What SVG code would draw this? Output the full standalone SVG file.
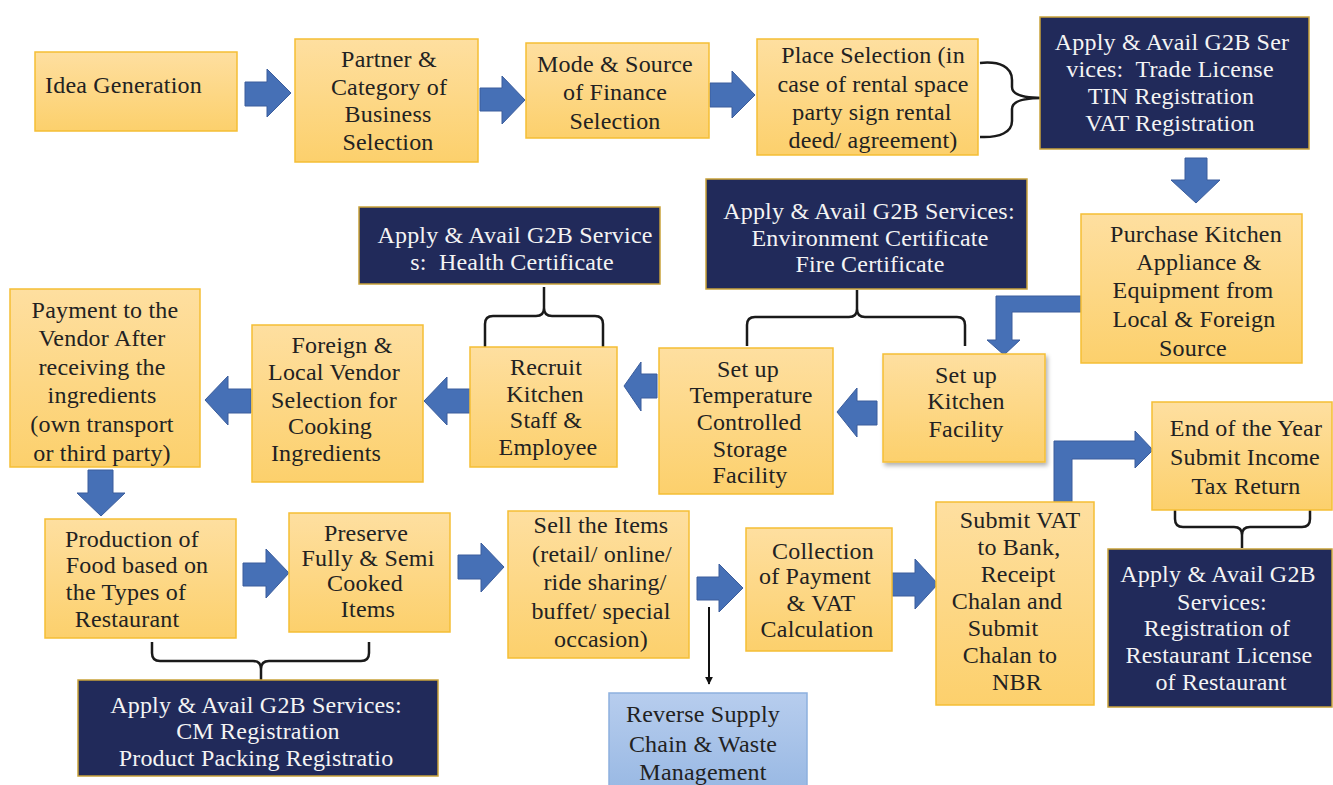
<svg xmlns="http://www.w3.org/2000/svg" width="1333" height="785" viewBox="0 0 1333 785">
<defs>
<linearGradient id="og" x1="0" y1="0" x2="0" y2="1"><stop offset="0" stop-color="#fedfa0"/><stop offset="1" stop-color="#fcd06c"/></linearGradient>
<linearGradient id="bg" x1="0" y1="0" x2="0" y2="1"><stop offset="0" stop-color="#b7cdee"/><stop offset="1" stop-color="#98b8e3"/></linearGradient>
<filter id="sh" x="-10%" y="-10%" width="125%" height="125%"><feDropShadow dx="2" dy="3" stdDeviation="2" flood-color="#000" flood-opacity="0.3"/></filter>
<marker id="ah" viewBox="0 0 10 10" refX="9" refY="5" markerWidth="4" markerHeight="4" orient="auto"><path d="M0,0 L10,5 L0,10 z" fill="#111"/></marker>
<style>
.o{fill:url(#og);stroke:#f5be35;stroke-width:1.5}
.d{fill:#212a5a;stroke:#c9a23a;stroke-width:1.5}
.b{fill:url(#bg);stroke:#8db0de;stroke-width:1.5}
.t{font-family:"Liberation Serif","Times New Roman",serif;font-size:24px;letter-spacing:0.2px;fill:#222;text-anchor:middle}
.w{fill:#f4f4f4}
.l{text-anchor:start}
.ar{fill:#4670b6;stroke:#3b5d9c;stroke-width:1}
.br{fill:none;stroke:#1a1a1a;stroke-width:2.5;stroke-linejoin:round}
</style>
</defs>

<g id="connectors">
<path class="ar" d="M245,82 H267 V69 L291,93 L267,117 V106 H245 Z"/>
<path class="ar" d="M480,88 H502 V76 L525,100 L502,124 V111 H480 Z"/>
<path class="ar" d="M710,83 H732 V71 L755,95 L732,118 V107 H710 Z"/>
<path class="ar" d="M1185,158 H1207 V180 H1220 L1196,203 L1171,180 H1185 Z"/>
<path class="ar" d="M1081,296 H996 V340 H987 L1004,355 L1020,340 H1012 V312 H1081 Z"/>
<path class="ar" d="M877,401 H857 V388 L837,412 L857,437 V425 H877 Z"/>
<path class="ar" d="M657,374 H641 V362 L624,386 L641,411 V398 H657 Z"/>
<path class="ar" d="M470,389 H447 V377 L424,401 L447,425 V413 H470 Z"/>
<path class="ar" d="M251,389 H228 V376 L205,400 L228,425 V413 H251 Z"/>
<path class="ar" d="M88,470 H113 V493 H125 L101,516 L77,493 H88 Z"/>
<path class="ar" d="M243,563 H266 V549 L289,573 L266,598 V586 H243 Z"/>
<path class="ar" d="M458,555 H481 V543 L504,567 L481,592 V579 H458 Z"/>
<path class="ar" d="M697,577 H719 V564 L743,588 L719,612 V600 H697 Z"/>
<path class="ar" d="M892,573 H915 V559 L938,584 L915,609 V596 H892 Z"/>
<path class="ar" d="M1054,502 V441 H1135 V431 L1153,450 L1135,468 V459 H1072 V502 Z"/>
<line x1="709" y1="607" x2="709" y2="684" stroke="#111" stroke-width="2" marker-end="url(#ah)"/>
<path class="br" d="M980,63 C1000,61 1012,67 1012,80 V87 C1012,95 1024,98 1042,98 C1024,98 1012,101 1012,109 V121 C1012,132 1000,138 980,137"/>
<path class="br" d="M485,347 V324 Q485,316 493,316 H536 Q544,316 544,308 V287 M544,308 Q544,316 552,316 H595 Q603,316 603,324 V347"/>
<path class="br" d="M747,346 V325 Q747,317 755,317 H849 Q857,317 857,309 V290 M857,309 Q857,317 865,317 H957 Q965,317 965,325 V346"/>
<path class="br" d="M152,642 V653 Q152,661 160,661 H253 Q261,661 261,669 V680 M261,669 Q261,661 269,661 H361 Q369,661 369,653 V642"/>
<path class="br" d="M1175,510 V519 Q1175,527 1183,527 H1234 Q1242,527 1242,535 V548 M1242,535 Q1242,527 1250,527 H1302 Q1310,527 1310,519 V510"/>
</g>

<g id="n-idea"><rect class="o" x="35" y="52" width="202" height="79"/><text class="t l" x="45" y="93">Idea Generation</text></g>
<g id="n-partner"><rect class="o" x="295" y="39" width="183" height="123"/>
<text class="t" x="389" y="67">Partner &amp;</text><text class="t" x="389" y="95">Category of</text><text class="t" x="388" y="122">Business</text><text class="t" x="388" y="150">Selection</text></g>
<g id="n-mode"><rect class="o" x="526" y="43" width="183" height="95"/>
<text class="t" x="615" y="72">Mode &amp; Source</text><text class="t" x="615" y="100">of Finance</text><text class="t" x="615" y="129">Selection</text></g>
<g id="n-place"><rect class="o" x="757" y="39" width="221" height="116"/>
<text class="t" x="873" y="63">Place Selection (in</text><text class="t" x="873" y="92">case of rental space</text><text class="t" x="872" y="120">party sign rental</text><text class="t" x="873" y="148">deed/ agreement)</text></g>
<g id="n-g2b-trade"><rect class="d" x="1040" y="17" width="269" height="132"/>
<text class="t w" x="1172" y="50">Apply &amp; Avail G2B Ser</text><text class="t w" x="1170" y="77" xml:space="preserve">vices:  Trade License</text><text class="t w" x="1171" y="104">TIN Registration</text><text class="t w" x="1170" y="131">VAT Registration</text></g>
<g id="n-purchase"><rect class="o" x="1081" y="214" width="221" height="149"/>
<text class="t" x="1196" y="242">Purchase Kitchen</text><text class="t" x="1199" y="270">Appliance &amp;</text><text class="t" x="1193" y="298">Equipment from</text><text class="t" x="1194" y="327">Local &amp; Foreign</text><text class="t" x="1193" y="356">Source</text></g>
<g id="n-g2b-health"><rect class="d" x="359" y="207" width="301" height="77"/>
<text class="t w" x="515" y="243">Apply &amp; Avail G2B Service</text><text class="t w" x="512" y="270" xml:space="preserve">s:  Health Certificate</text></g>
<g id="n-g2b-env"><rect class="d" x="706" y="179" width="321" height="110"/>
<text class="t w" x="869" y="219">Apply &amp; Avail G2B Services:</text><text class="t w" x="870" y="246">Environment Certificate</text><text class="t w" x="870" y="272">Fire Certificate</text></g>
<g id="n-kitchen"><rect class="o" x="883" y="354" width="162" height="108" filter="url(#sh)"/>
<text class="t" x="966" y="383">Set up</text><text class="t" x="966" y="409">Kitchen</text><text class="t" x="966" y="437">Facility</text></g>
<g id="n-temp"><rect class="o" x="659" y="348" width="174" height="146"/>
<text class="t" x="748" y="377">Set up</text><text class="t" x="751" y="403">Temperature</text><text class="t" x="749" y="430">Controlled</text><text class="t" x="750" y="457">Storage</text><text class="t" x="750" y="483">Facility</text></g>
<g id="n-recruit"><rect class="o" x="470" y="347" width="147" height="120"/>
<text class="t" x="546" y="375">Recruit</text><text class="t" x="545" y="402">Kitchen</text><text class="t" x="546" y="428">Staff &amp;</text><text class="t" x="548" y="455">Employee</text></g>
<g id="n-foreign"><rect class="o" x="252" y="325" width="171" height="157"/>
<text class="t" x="342" y="353">Foreign &amp;</text><text class="t" x="334" y="380">Local Vendor</text><text class="t" x="334" y="408">Selection for</text><text class="t" x="330" y="434">Cooking</text><text class="t" x="326" y="461">Ingredients</text></g>
<g id="n-payment"><rect class="o" x="10" y="289" width="190" height="178"/>
<text class="t" x="105" y="318">Payment to the</text><text class="t" x="102" y="346">Vendor After</text><text class="t" x="102" y="375">receiving the</text><text class="t" x="102" y="403">ingredients</text><text class="t" x="102" y="432">(own transport</text><text class="t" x="102" y="461">or third party)</text></g>
<g id="n-production"><rect class="o" x="45" y="519" width="191" height="119"/>
<text class="t" x="132" y="547">Production of</text><text class="t" x="137" y="573">Food based on</text><text class="t" x="126" y="600">the Types of</text><text class="t" x="127" y="627">Restaurant</text></g>
<g id="n-preserve"><rect class="o" x="289" y="513" width="161" height="119"/>
<text class="t" x="366" y="541">Preserve</text><text class="t" x="368" y="566">Fully &amp; Semi</text><text class="t" x="365" y="591">Cooked</text><text class="t" x="368" y="617">Items</text></g>
<g id="n-sell"><rect class="o" x="508" y="511" width="181" height="147"/>
<text class="t" x="601" y="533">Sell the Items</text><text class="t" x="602" y="562">(retail/ online/</text><text class="t" x="605" y="590">ride sharing/</text><text class="t" x="601" y="619">buffet/ special</text><text class="t" x="601" y="647">occasion)</text></g>
<g id="n-collection"><rect class="o" x="746" y="528" width="146" height="123"/>
<text class="t" x="823" y="559">Collection</text><text class="t" x="815" y="584">of Payment</text><text class="t" x="821" y="611">&amp; VAT</text><text class="t" x="817" y="637">Calculation</text></g>
<g id="n-submitvat"><rect class="o" x="936" y="502" width="158" height="203"/>
<text class="t" x="1020" y="528">Submit VAT</text><text class="t" x="1019" y="555">to Bank,</text><text class="t" x="1018" y="582">Receipt</text><text class="t" x="1007" y="609">Chalan and</text><text class="t" x="1003" y="636">Submit</text><text class="t" x="1010" y="663">Chalan to</text><text class="t" x="1017" y="690">NBR</text></g>
<g id="n-endyear"><rect class="o" x="1152" y="402" width="180" height="108"/>
<text class="t" x="1246" y="436">End of the Year</text><text class="t" x="1245" y="465">Submit Income</text><text class="t" x="1246" y="494">Tax Return</text></g>
<g id="n-g2b-restaurant"><rect class="d" x="1108" y="549" width="224" height="158"/>
<text class="t w" x="1218" y="582">Apply &amp; Avail G2B</text><text class="t w" x="1222" y="610">Services:</text><text class="t w" x="1217" y="636">Registration of</text><text class="t w" x="1219" y="663">Restaurant License</text><text class="t w" x="1221" y="690">of Restaurant</text></g>
<g id="n-g2b-cm"><rect class="d" x="78" y="680" width="360" height="96"/>
<text class="t w" x="256" y="713">Apply &amp; Avail G2B Services:</text><text class="t w" x="258" y="739">CM Registration</text><text class="t w" x="256" y="766">Product Packing Registratio</text></g>
<g id="n-reverse"><rect class="b" x="609" y="693" width="198" height="100"/>
<text class="t" x="703" y="722">Reverse Supply</text><text class="t" x="703" y="752">Chain &amp; Waste</text><text class="t" x="703" y="780">Management</text></g>
</svg>
